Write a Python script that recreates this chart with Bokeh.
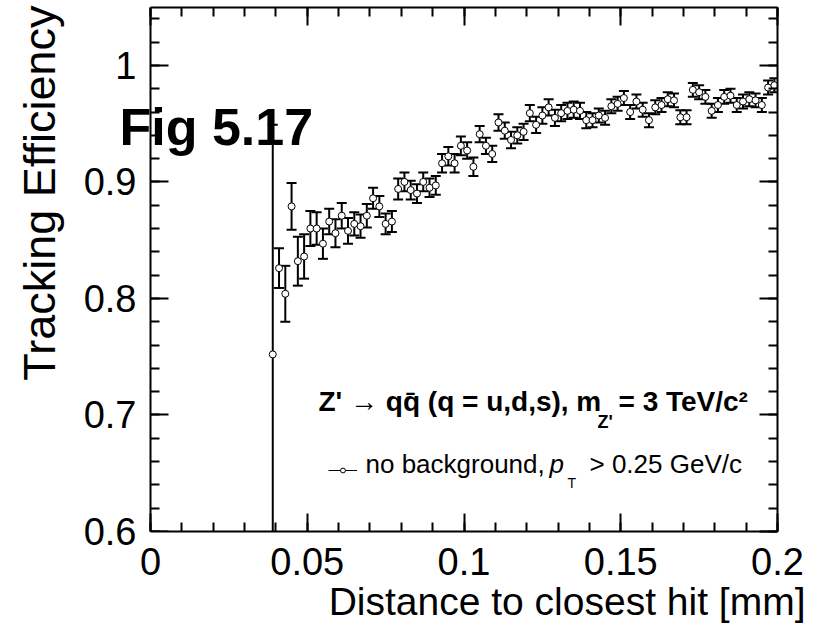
import math
from bokeh.plotting import figure
from bokeh.models import (Range1d, FixedTicker, LinearAxis, Label, Legend,
                          LegendItem, ColumnDataSource, Title)
from bokeh.embed import file_html
from bokeh.resources import INLINE

# ---------------- data ----------------
distance = [0.039, 0.041, 0.043, 0.045, 0.047, 0.049, 0.051, 0.053, 0.055, 0.057,
            0.059, 0.061, 0.063, 0.065, 0.067, 0.069, 0.071, 0.073, 0.075, 0.077,
            0.079, 0.081, 0.083, 0.085, 0.087, 0.089, 0.091, 0.093, 0.095, 0.097,
            0.099, 0.101, 0.103, 0.105, 0.107, 0.109, 0.111, 0.113, 0.115, 0.117,
            0.119, 0.121, 0.123, 0.125, 0.127, 0.129, 0.131, 0.133, 0.135, 0.137,
            0.139, 0.141, 0.143, 0.145, 0.147, 0.149, 0.151, 0.153, 0.155, 0.157,
            0.159, 0.161, 0.163, 0.165, 0.167, 0.169, 0.171, 0.173, 0.175, 0.177,
            0.179, 0.181, 0.183, 0.185, 0.187, 0.189, 0.191, 0.193, 0.195, 0.197,
            0.199]

efficiency = [0.752, 0.826, 0.804, 0.879, 0.832, 0.836, 0.860, 0.860, 0.847, 0.866,
              0.856, 0.871, 0.858, 0.864, 0.862, 0.871, 0.886, 0.879, 0.864, 0.866,
              0.894, 0.900, 0.893, 0.890, 0.900, 0.895, 0.897, 0.916, 0.922, 0.916,
              0.931, 0.927, 0.913, 0.941, 0.931, 0.924, 0.951, 0.944, 0.936, 0.940,
              0.943, 0.959, 0.949, 0.957, 0.964, 0.955, 0.959, 0.961, 0.962, 0.961,
              0.953, 0.953, 0.957, 0.955, 0.965, 0.967, 0.972, 0.960, 0.969, 0.962,
              0.953, 0.964, 0.966, 0.971, 0.970, 0.9555, 0.9555, 0.979, 0.977, 0.973,
              0.961, 0.966, 0.973, 0.974, 0.966, 0.969, 0.971, 0.970, 0.966, 0.981,
              0.983]

efficiency_err = [0.197, 0.017, 0.024, 0.020, 0.021, 0.019, 0.015, 0.014, 0.013, 0.011,
                  0.012, 0.011, 0.011, 0.010, 0.010, 0.010, 0.009, 0.009, 0.009, 0.009,
                  0.009, 0.008, 0.008, 0.008, 0.008, 0.008, 0.008, 0.008, 0.008, 0.008,
                  0.008, 0.007, 0.008, 0.007, 0.007, 0.007, 0.007, 0.007, 0.007, 0.007,
                  0.007, 0.007, 0.007, 0.007, 0.007, 0.007, 0.007, 0.007, 0.007, 0.007,
                  0.007, 0.006, 0.006, 0.006, 0.006, 0.006, 0.006, 0.006, 0.006, 0.006,
                  0.006, 0.006, 0.006, 0.006, 0.006, 0.006, 0.006, 0.006, 0.006, 0.006,
                  0.006, 0.006, 0.006, 0.006, 0.006, 0.006, 0.006, 0.006, 0.006, 0.006,
                  0.006]

x_ticks = [0.0, 0.05, 0.1, 0.15, 0.2]
x_tick_labels = ["0", "0.05", "0.1", "0.15", "0.2"]
y_ticks = [0.6, 0.7, 0.8, 0.9, 1.0]
y_tick_labels = ["0.6", "0.7", "0.8", "0.9", "1"]

x_title = "Distance to closest hit [mm]"
y_title = "Tracking Efficiency"
fig_tag = "Fig 5.17"
legend_text = ["no background,", "p", "T", "> 0.25 GeV/c"]
process_text = ["Z' \u2192 qq\u0304 (q = u,d,s), m", "Z'", "= 3 TeV/c\u00b2"]

FONT = "Liberation Sans"

# ---------------- geometry (canvas pixels) ----------------
W, H = 825, 632
AX_LEFT, AX_RIGHT, AX_TOP, AX_BOTTOM = 150, 777, 7, 531   # the drawn box
FRAME_LEFT = 122                                           # frame starts left of the box
X0, X1 = 0.0, 0.2
Y0, Y1 = 0.6, 1.0497
px_per_x = (AX_RIGHT - AX_LEFT) / (X1 - X0)
x_start = X0 - (AX_LEFT - FRAME_LEFT) / px_per_x

src = ColumnDataSource(dict(
    x=distance,
    y=efficiency,
    lo=[v - e for v, e in zip(efficiency, efficiency_err)],
    hi=[v + e for v, e in zip(efficiency, efficiency_err)],
))

p = figure(width=W, height=H, output_backend="svg", toolbar_location=None,
           x_range=Range1d(x_start, X1), y_range=Range1d(Y0, Y1),
           x_axis_location=None, y_axis_location=None,
           min_border_left=FRAME_LEFT, min_border_right=W - AX_RIGHT,
           min_border_top=AX_TOP, min_border_bottom=H - AX_BOTTOM,
           background_fill_color="white", border_fill_color="white")
p.outline_line_color = None
p.xgrid.visible = False
p.ygrid.visible = False
p.extra_y_ranges = {"legend_only": Range1d(100.0, 101.0)}

x_minor = [round(i * 0.01, 3) for i in range(0, 21)]
y_minor = [round(0.6 + i * 0.02, 3) for i in range(0, 23)]
xt = FixedTicker(ticks=x_ticks, minor_ticks=x_minor)
yt = FixedTicker(ticks=y_ticks, minor_ticks=y_minor)

TICK_FONT = 38


def ticks_style(ax):
    ax.axis_line_color = "black"
    ax.axis_line_width = 2
    ax.major_tick_in = 18
    ax.major_tick_out = 0
    ax.minor_tick_in = 9
    ax.minor_tick_out = 0
    ax.major_tick_line_width = 2
    ax.minor_tick_line_width = 2
    ax.major_tick_line_color = "black"
    ax.minor_tick_line_color = "black"


def no_labels(ax):
    ax.major_label_text_font_size = "0px"
    ax.major_label_text_color = None
    ax.major_label_standoff = 0


def labels_style(ax):
    ax.major_label_text_font = FONT
    ax.major_label_text_font_size = f"{TICK_FONT}px"
    ax.major_label_text_color = "black"


# bottom axis: box edge, ticks and labels
xb = LinearAxis(ticker=xt, bounds=(X0, X1),
                major_label_overrides=dict(zip(x_ticks, x_tick_labels)))
ticks_style(xb)
labels_style(xb)
xb.major_label_standoff = 16
p.add_layout(xb, "below")

# left side: tick labels (axis at the frame edge, labels pushed right to x=0)
yl = LinearAxis(ticker=yt, major_label_overrides=dict(zip(y_ticks, y_tick_labels)))
labels_style(yl)
yl.axis_line_color = None
yl.major_tick_line_color = None
yl.minor_tick_line_color = None
yl.major_tick_out = 0
yl.major_tick_in = 0
yl.minor_tick_out = 0
yl.minor_tick_in = 0
yl.major_label_standoff = -(AX_LEFT - FRAME_LEFT) + 14
p.add_layout(yl, "left")

# left box edge with ticks at x = 0
yl_box = LinearAxis(ticker=yt, fixed_location=X0)
ticks_style(yl_box)
no_labels(yl_box)
p.add_layout(yl_box, "left")

xa = LinearAxis(ticker=xt, bounds=(X0, X1))
ticks_style(xa)
no_labels(xa)
p.add_layout(xa, "above")

yr = LinearAxis(ticker=yt)
ticks_style(yr)
no_labels(yr)
p.add_layout(yr, "right")

# axis titles (ROOT style: aligned to the axis ends)
ty = Title(text=y_title, align="right", offset=-2, standoff=27, vertical_align="top",
           text_font=FONT, text_font_size="45px", text_font_style="normal",
           text_color="black")
p.add_layout(ty, "left")
tx = Title(text=x_title, align="right", offset=-28, standoff=0,
           text_font=FONT, text_font_size="39px", text_font_style="normal",
           text_color="black")
p.add_layout(tx, "below")

# ---------------- data marks ----------------
p.segment(x0="x", y0="lo", x1="x", y1="hi", source=src,
          line_color="black", line_width=2)
p.scatter(x="x", y="hi", marker="dash", size=10, line_width=2,
          line_color="black", source=src)
p.scatter(x="x", y="lo", marker="dash", size=10, line_width=2,
          line_color="black", source=src)
circles = p.scatter(x="x", y="y", marker="circle", size=7, fill_color="white",
                    line_color="black", line_width=1, source=src)


# ---------------- texts inside the frame (canvas pixel anchors, baseline y) ----------------
def lab(text, cx, base_y, size_px, style="normal"):
    mid_y = base_y - 0.3465 * size_px
    p.add_layout(Label(x=cx - FRAME_LEFT, y=AX_BOTTOM - mid_y,
                       x_units="screen", y_units="screen", text=text,
                       text_font=FONT, text_font_size=f"{size_px}px",
                       text_font_style=style, text_color="black",
                       text_align="left", text_baseline="middle"))


lab(fig_tag, 119, 145, 52, style="bold")

lab(process_text[0], 318, 411, 28, style="bold")
lab(process_text[1], 597, 428, 18, style="bold")
lab(process_text[2], 618, 411, 28, style="bold")

lab(legend_text[0], 365, 473, 26)
lab(legend_text[1], 549, 473, 26, style="italic")
lab(legend_text[2], 567, 487, 14)
lab(legend_text[3], 589, 473, 26)

# legend marker (short line + small open circle); the line itself is drawn off-range
legend_line = p.line(x="x", y="y", source=src, y_range_name="legend_only",
                     line_color="black", line_width=1)
legend = Legend(items=[LegendItem(label=" ", renderers=[legend_line, circles])],
                location=(328 - FRAME_LEFT, AX_BOTTOM - 470 - 6),
                glyph_width=29, glyph_height=12, padding=0, margin=0,
                spacing=0, label_standoff=0, label_width=0, label_height=0,
                label_text_font_size="12px", label_text_color=None,
                border_line_color=None, background_fill_alpha=0)
p.add_layout(legend)

open("out.html", "w").write(file_html(p, INLINE))
